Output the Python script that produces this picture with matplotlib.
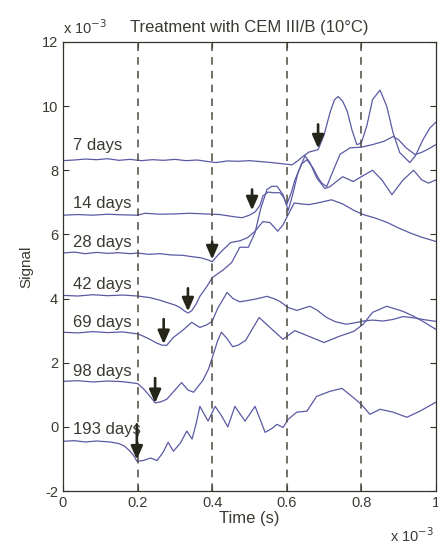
import matplotlib
matplotlib.use("Agg")
import matplotlib.pyplot as plt

plt.rcParams['font.family'] = ['Liberation Sans', 'DejaVu Sans']
plt.rcParams['axes.unicode_minus'] = False

# ---- data (time in ms-units of 1e-3 s, signal in 1e-3 units) ----
t7 = [0.0, 0.03, 0.06, 0.09, 0.12, 0.15, 0.18, 0.21, 0.24, 0.27, 0.30, 0.33, 0.36, 0.39, 0.41, 0.44, 0.47,
      0.50, 0.53, 0.56, 0.59, 0.614, 0.63, 0.645, 0.66, 0.684, 0.70, 0.716, 0.728, 0.738, 0.75, 0.762,
      0.775, 0.788, 0.80, 0.815, 0.83, 0.85, 0.868, 0.885, 0.903, 0.93, 0.945, 0.965, 0.984, 1.0]
v7 = [8.30, 8.32, 8.35, 8.33, 8.36, 8.31, 8.34, 8.30, 8.33, 8.31, 8.34, 8.30, 8.32, 8.27, 8.24, 8.29, 8.28,
      8.30, 8.27, 8.24, 8.20, 8.17, 8.30, 8.45, 8.57, 8.64, 9.10, 9.80, 10.2, 10.3, 10.15, 9.85,
      9.25, 8.80, 8.85, 9.40, 10.2, 10.5, 10.0, 9.17, 8.55, 8.24, 8.45, 8.95, 9.32, 9.50]

t14 = [0.0, 0.04, 0.08, 0.12, 0.16, 0.2, 0.22, 0.26, 0.3, 0.34, 0.38, 0.42, 0.46, 0.48, 0.50, 0.515, 0.528,
       0.536, 0.55, 0.565, 0.582, 0.592, 0.60, 0.612, 0.622, 0.64, 0.654, 0.67, 0.685, 0.694, 0.707, 0.725,
       0.743, 0.77, 0.80, 0.83, 0.86, 0.885, 0.90, 0.92, 0.944, 0.96, 0.976, 1.0]
v14 = [6.60, 6.62, 6.60, 6.63, 6.61, 6.60, 6.66, 6.63, 6.64, 6.66, 6.64, 6.62, 6.55, 6.52, 6.60, 6.70, 6.90,
       7.20, 7.32, 7.30, 7.30, 7.15, 6.93, 7.30, 7.70, 8.20, 8.33, 8.08, 7.75, 7.60, 7.49, 8.00,
       8.50, 8.70, 8.72, 8.80, 8.90, 9.05, 8.95, 8.70, 8.49, 8.55, 8.64, 8.80]

t28 = [0.0, 0.03, 0.06, 0.09, 0.12, 0.15, 0.18, 0.2, 0.23, 0.26, 0.29, 0.32, 0.35, 0.37, 0.39, 0.40, 0.415,
       0.43, 0.45, 0.474, 0.495, 0.515, 0.536, 0.555, 0.576, 0.59, 0.606, 0.62, 0.64, 0.66, 0.69, 0.72, 0.75,
       0.78, 0.805, 0.84, 0.87, 0.90, 0.93, 0.96, 0.98, 1.0]
v28 = [5.42, 5.45, 5.40, 5.44, 5.41, 5.43, 5.40, 5.42, 5.38, 5.40, 5.36, 5.35, 5.30, 5.27, 5.20, 5.15, 5.35,
       5.53, 5.75, 5.80, 5.90, 6.10, 6.40, 6.37, 6.10, 6.30, 6.67, 6.98, 6.95, 6.93, 7.00, 7.08, 6.95,
       6.75, 6.62, 6.50, 6.37, 6.20, 6.05, 5.92, 5.85, 5.78]

t42 = [0.0, 0.04, 0.08, 0.12, 0.16, 0.2, 0.233, 0.26, 0.278, 0.30, 0.314, 0.325, 0.335, 0.345, 0.358, 0.367,
       0.386, 0.40, 0.43, 0.452, 0.474, 0.497, 0.515, 0.53, 0.547, 0.56, 0.574, 0.59, 0.604, 0.615, 0.63,
       0.649, 0.662, 0.68, 0.702, 0.716, 0.75, 0.778, 0.80, 0.83, 0.855, 0.882, 0.912, 0.94, 0.962, 0.98, 1.0]
v42 = [4.10, 4.08, 4.12, 4.09, 4.11, 4.08, 4.03, 3.95, 3.88, 3.80, 3.72, 3.62, 3.55, 3.62, 3.85, 4.07,
       4.38, 4.65, 4.90, 5.12, 5.60, 5.60, 6.06, 6.80, 7.40, 7.50, 7.50, 7.24, 6.75, 7.20, 7.92,
       8.45, 8.24, 7.77, 7.43, 7.49, 7.80, 7.65, 7.80, 8.00, 7.70, 7.24, 7.70, 8.00, 7.70, 7.60, 7.70]

t69 = [0.0, 0.04, 0.08, 0.12, 0.16, 0.2, 0.215, 0.233, 0.25, 0.265, 0.278, 0.295, 0.322, 0.345, 0.367,
       0.385, 0.40, 0.415, 0.44, 0.456, 0.474, 0.49, 0.51, 0.53, 0.547, 0.565, 0.582, 0.604, 0.627, 0.645,
       0.662, 0.68, 0.707, 0.73, 0.76, 0.785, 0.805, 0.83, 0.858, 0.885, 0.912, 0.94, 0.97, 1.0]
v69 = [2.95, 2.93, 2.97, 2.94, 2.96, 2.90, 2.83, 2.73, 2.62, 2.55, 2.54, 2.78, 3.02, 3.26, 3.10,
       3.18, 3.29, 3.70, 4.19, 4.00, 3.90, 3.93, 3.97, 4.02, 4.07, 4.00, 3.91, 3.72, 3.63, 3.70,
       3.76, 3.65, 3.41, 3.28, 3.20, 3.25, 3.30, 3.33, 3.30, 3.35, 3.44, 3.40, 3.34, 3.29]

t98 = [0.0, 0.04, 0.08, 0.12, 0.16, 0.2, 0.215, 0.23, 0.247, 0.262, 0.278, 0.295, 0.318, 0.335, 0.35,
       0.375, 0.39, 0.40, 0.415, 0.425, 0.44, 0.455, 0.47, 0.49, 0.507, 0.526, 0.555, 0.59, 0.622, 0.66,
       0.70, 0.74, 0.78, 0.805, 0.83, 0.868, 0.912, 0.94, 0.965, 1.0]
v98 = [1.42, 1.44, 1.40, 1.43, 1.41, 1.35, 1.20, 1.00, 0.75, 0.78, 0.86, 1.08, 1.38, 1.15, 1.08,
       1.45, 1.80, 2.15, 2.70, 2.95, 2.75, 2.50, 2.55, 2.70, 3.04, 3.41, 3.10, 2.73, 3.00, 2.82,
       2.63, 2.82, 2.98, 3.20, 3.57, 3.76, 3.60, 3.45, 3.29, 3.04]

t193 = [0.0, 0.03, 0.06, 0.09, 0.126, 0.15, 0.165, 0.18, 0.19, 0.198, 0.215, 0.235, 0.252, 0.268, 0.282,
        0.296, 0.315, 0.332, 0.346, 0.357, 0.367, 0.389, 0.408, 0.425, 0.442, 0.461, 0.488, 0.515, 0.542,
        0.56, 0.574, 0.59, 0.604, 0.627, 0.654, 0.68, 0.716, 0.748, 0.778, 0.80, 0.823, 0.85, 0.885,
        0.922, 0.957, 1.0]
v193 = [-0.45, -0.43, -0.47, -0.44, -0.47, -0.52, -0.60, -0.76, -0.90, -1.07, -1.05, -0.97, -1.05, -0.80,
        -0.48, -0.76, -0.50, -0.13, -0.38, 0.10, 0.64, 0.18, 0.64, 0.35, 0.00, 0.64, 0.18, 0.64, -0.17,
        -0.05, 0.08, -0.02, 0.24, 0.46, 0.49, 0.95, 1.11, 1.20, 0.92, 0.70, 0.39, 0.55, 0.46,
        0.30, 0.49, 0.77]

labels = ['7 days', '14 days', '28 days', '42 days', '69 days', '98 days', '193 days']
label_y = [8.76, 6.96, 5.74, 4.44, 3.26, 1.73, -0.07]

# arrival arrows (tip positions)
arrow_t = [0.684, 0.507, 0.40, 0.335, 0.27, 0.247, 0.198]
arrow_v = [8.68, 6.75, 5.22, 3.60, 2.58, 0.74, -1.02]
arrow_len = [0.75, 0.65, 0.55, 0.72, 0.78, 0.78, 1.1]

dashed_t = [0.2, 0.4, 0.6, 0.8]
xticks = [0, 0.2, 0.4, 0.6, 0.8, 1]
xticklabels = ['0', '0.2', '0.4', '0.6', '0.8', '1']
yticks = [-2, 0, 2, 4, 6, 8, 10, 12]

traces = [(t7, v7), (t14, v14), (t28, v28), (t42, v42), (t69, v69), (t98, v98), (t193, v193)]

line_color = '#5a5aa4'
dark = '#34342a'
text_color = '#3a3a32'

fig = plt.figure(figsize=(4.39, 5.45), dpi=100)
ax = fig.add_axes([0.1435, 0.099, 0.8495, 0.824])

for tx, vy in traces:
    ax.plot(tx, vy, color=line_color, lw=0.9)

for d in dashed_t:
    ax.axvline(d, color='#4a4a3e', lw=1.1, dashes=(5, 4))

for lab, ly in zip(labels, label_y):
    ax.text(0.027, ly, lab, fontsize=12, color=text_color, va='center', ha='left')

for at, av, al in zip(arrow_t, arrow_v, arrow_len):
    ax.annotate('', xy=(at, av), xytext=(at, av + al),
                arrowprops=dict(arrowstyle='-|>,head_width=0.35,head_length=0.8',
                                color='#25251a', lw=1.9, shrinkA=0, shrinkB=0))

ax.set_xlim(0, 1)
ax.set_ylim(-2, 12)
ax.set_xticks(xticks)
ax.set_xticklabels(xticklabels)
ax.set_yticks(yticks)
ax.tick_params(direction='in', length=4, top=True, right=True, labelsize=10.5,
               colors=dark, labelcolor=text_color, width=0.8)
for s in ax.spines.values():
    s.set_color(dark)
    s.set_linewidth(0.9)

ax.set_xlabel('Time (s)', fontsize=12, color=text_color, labelpad=1)
ax.set_ylabel('Signal', fontsize=11, color=text_color, labelpad=6)
ax.set_title('Treatment with CEM III/B (10\u00b0C)', fontsize=12, color=text_color, pad=7)

ax.text(0.0, 1.012, r'x 10$^{-3}$', transform=ax.transAxes, fontsize=10.5,
        color=text_color, ha='left', va='bottom')
ax.text(0.995, -0.078, r'x 10$^{-3}$', transform=ax.transAxes, fontsize=10.5,
        color=text_color, ha='right', va='top')

fig.savefig('out.png', dpi=100)
